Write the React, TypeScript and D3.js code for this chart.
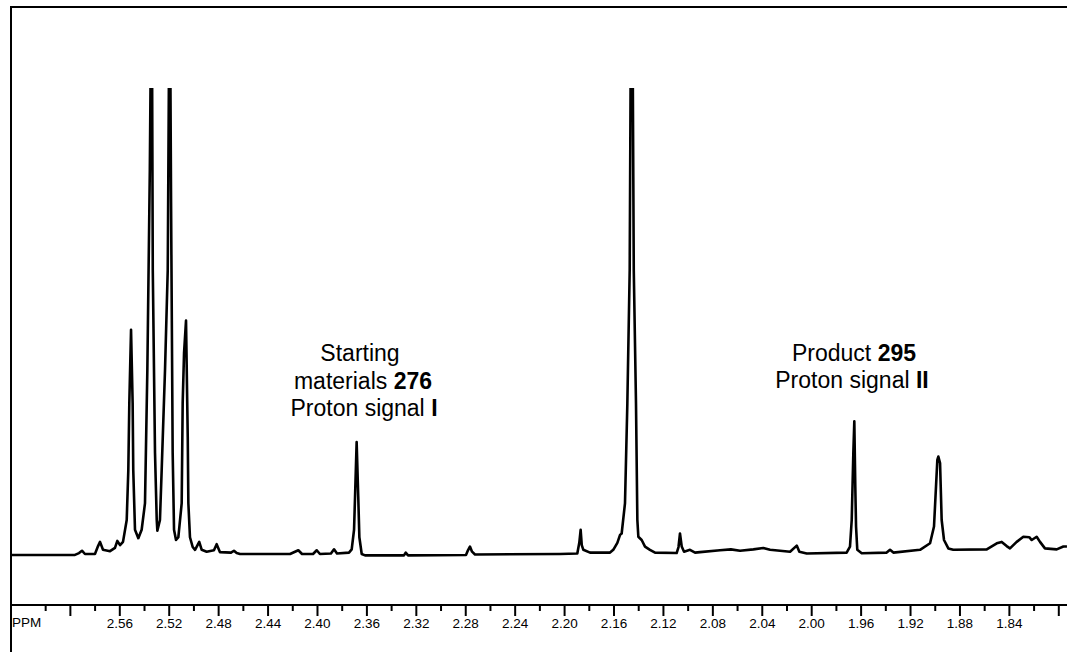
import React, { useRef, useEffect } from 'react';
import * as d3 from 'd3';

type Pt = [number, number]; // [ppm, intensity]

// 2.55 - 2.47 ppm multiplet (two tallest lines run off scale)
const multiplet: Pt[] = [
  [2.6477, -0.2], [2.5959, -0.2], [2.5926, 0.2], [2.5902, 0.7], [2.5878, 0], [2.5797, 0],
  [2.5772, 1.7], [2.5756, 2.6], [2.5732, 0.9], [2.5675, 0.6], [2.5635, 1.3], [2.5616, 2.8],
  [2.5594, 1.9], [2.557, 2.6], [2.554, 7.3], [2.5527, 18.0], [2.5519, 32.4], [2.5505, 48.1],
  [2.5492, 32.4], [2.5487, 18.0], [2.5473, 5.2], [2.5446, 3.4], [2.5419, 5.2], [2.5392, 10.9],
  [2.5373, 39.5], [2.5353, 82.4], [2.5338, 130], [2.5329, 60.9], [2.5311, 21.7], [2.5297, 7.3],
  [2.5292, 5.0], [2.5271, 7.3], [2.5257, 18.0], [2.523, 39.5], [2.5208, 60.9], [2.5192, 130],
  [2.5181, 75.3], [2.5168, 21.7], [2.5157, 5.2], [2.5141, 3.0], [2.5122, 3.6], [2.5095, 10.9],
  [2.5087, 32.4], [2.5076, 43.1], [2.506, 50.1], [2.5046, 25.1], [2.5041, 10.9], [2.5028, 3.6],
  [2.5006, 1.5], [2.4987, 0.9], [2.4953, 2.6], [2.4933, 0.9], [2.4893, 0.5], [2.4834, 0.8],
  [2.4812, 2.1], [2.4785, 0.4], [2.4696, 0.3], [2.4672, 0.7], [2.465, 0.2],
];

// starting material 276, proton signal I
const signalI: Pt[] = [
  [2.4623, 0], [2.4218, 0], [2.4151, 0.8], [2.4121, 0], [2.4032, 0], [2.4002, 0.8],
  [2.3976, 0], [2.3887, 0.1], [2.3862, 1.0], [2.3838, 0.1], [2.3741, 0.3], [2.3719, 1.0],
  [2.37, 5.2], [2.3692, 12.3], [2.3679, 24.0], [2.3666, 12.3], [2.3657, 3.6], [2.3638, 0],
  [2.3611, -0.3], [2.3296, -0.3], [2.3282, 0.3], [2.3263, -0.3], [2.2794, -0.2], [2.2778, 0.8],
  [2.2762, 1.6], [2.2745, 0.5], [2.2721, -0.1],
];

// singlet at 2.145 ppm (off scale)
const mainPeak: Pt[] = [
  [2.2195, -0.1], [2.2033, 0], [2.1893, 0.1], [2.1877, 2.4], [2.1866, 5.2], [2.1857, 1.9],
  [2.1844, 0.9], [2.179, 0.3], [2.1628, 0.3], [2.1602, 0.9], [2.1569, 2.4], [2.1547, 4.1],
  [2.1534, 4.4], [2.1507, 10.9], [2.1488, 32.3], [2.1469, 60.9], [2.1453, 150], [2.1436, 60.9],
  [2.1418, 32.3], [2.1407, 7.3], [2.1399, 3.7], [2.1372, 3.0], [2.1345, 1.6], [2.1305, 0.9],
  [2.1264, 0.3], [2.1089, 0.2], [2.1074, 1.5], [2.1062, 4.4], [2.1048, 1.6], [2.1029, 0.5],
  [2.0981, 0.9], [2.094, 0.3],
];

// product 295, proton signal II
const signalII: Pt[] = [
  [2.09, 0.4], [2.0738, 0.8], [2.065, 1.0], [2.0576, 0.7], [2.0468, 1.0], [2.0388, 1.3],
  [2.0333, 0.9], [2.0171, 0.5], [2.0117, 1.8], [2.0096, 0.5], [2.0036, 0.1], [1.9713, 0.3],
  [1.9686, 1.6], [1.9672, 7.3], [1.9659, 21.6], [1.9651, 28.5], [1.9643, 14.4], [1.9637, 5.9],
  [1.9627, 0.9], [1.9591, 0.15], [1.9389, 0.3], [1.9362, 0.9], [1.9335, 0.3], [1.9119, 0.9],
  [1.9038, 2.3], [1.9006, 5.9], [1.899, 14.4], [1.8979, 20.2], [1.8971, 20.9], [1.8957, 19.5],
  [1.8944, 7.3], [1.8925, 3.0], [1.889, 1.2], [1.885, 0.9],
];

const highField: Pt[] = [
  [1.8579, 1.0], [1.8498, 2.3], [1.8458, 2.6], [1.8418, 1.7], [1.8391, 1.2], [1.8337, 2.6],
  [1.8283, 3.7], [1.8235, 3.6], [1.8215, 3.0], [1.8175, 3.7], [1.8148, 2.6], [1.8108, 1.2],
  [1.8013, 1.0], [1.7959, 1.6], [1.793, 1.6],
];

const majorTicks = [2.60, 2.56, 2.52, 2.48, 2.44, 2.40, 2.36, 2.32, 2.28, 2.24, 2.20,
  2.16, 2.12, 2.08, 2.04, 2.00, 1.96, 1.92, 1.88, 1.84, 1.80];
const minorTicks = [2.62, 2.58, 2.54, 2.50, 2.46, 2.42, 2.38, 2.34, 2.30, 2.26, 2.22,
  2.18, 2.14, 2.10, 2.06, 2.02, 1.98, 1.94, 1.90, 1.86, 1.82];
const tickLabels = ['2.56', '2.52', '2.48', '2.44', '2.40', '2.36', '2.32', '2.28', '2.24',
  '2.20', '2.16', '2.12', '2.08', '2.04', '2.00', '1.96', '1.92', '1.88', '1.84'];

const W = 1067;
const H = 652;
const FONT = '"Liberation Sans", Arial, sans-serif';

const App: React.FC = () => {
  const svgRef = useRef<SVGSVGElement>(null);

  useEffect(() => {
    if (!svgRef.current) return;
    const svg = d3.select(svgRef.current);
    svg.selectAll('*').remove();

    const x = d3.scaleLinear().domain([2.56, 1.80]).range([119.3, 1058.3]);
    const y = d3.scaleLinear().domain([0, 100]).range([554, 88]);
    const axisY = 605;

    svg.append('rect').attr('width', W).attr('height', H).attr('fill', '#fff');

    // frame
    svg.append('line')
      .attr('x1', 10).attr('x2', W).attr('y1', 7).attr('y2', 7)
      .attr('stroke', '#000').attr('stroke-width', 2);
    svg.append('line')
      .attr('x1', 11).attr('x2', 11).attr('y1', 6).attr('y2', H)
      .attr('stroke', '#000').attr('stroke-width', 2);

    svg.append('defs').append('clipPath').attr('id', 'plot-clip')
      .append('rect').attr('x', 12).attr('y', y(100)).attr('width', W - 12).attr('height', 500);

    // spectrum
    const spectrum = [...multiplet, ...signalI, ...mainPeak.slice(1), ...signalII, ...highField];
    const line = d3.line<Pt>().x(d => x(d[0])).y(d => y(d[1]));
    svg.append('path')
      .attr('clip-path', 'url(#plot-clip)')
      .attr('d', line(spectrum))
      .attr('fill', 'none')
      .attr('stroke', '#000')
      .attr('stroke-width', 2.6)
      .attr('stroke-linejoin', 'round');

    // ppm axis
    svg.append('line')
      .attr('x1', 11).attr('x2', W).attr('y1', axisY).attr('y2', axisY)
      .attr('stroke', '#000').attr('stroke-width', 2.2);

    const labelSet = new Set(tickLabels);
    const major = d3.axisBottom(x)
      .tickValues(majorTicks)
      .tickSize(11)
      .tickPadding(2)
      .tickFormat(d => (labelSet.has((+d).toFixed(2)) ? (+d).toFixed(2) : ''));
    const gMajor = svg.append('g').attr('transform', `translate(0,${axisY})`).call(major);
    gMajor.select('.domain').remove();
    gMajor.selectAll('line').attr('stroke', '#000').attr('stroke-width', 2);
    gMajor.selectAll('text')
      .attr('fill', '#000')
      .style('font-family', FONT)
      .style('font-size', '13.5px');

    const minor = d3.axisBottom(x).tickValues(minorTicks).tickSize(6).tickFormat(() => '');
    const gMinor = svg.append('g').attr('transform', `translate(0,${axisY})`).call(minor);
    gMinor.select('.domain').remove();
    gMinor.selectAll('line').attr('stroke', '#000').attr('stroke-width', 2);

    svg.append('text')
      .attr('x', 12).attr('y', 627)
      .attr('fill', '#000')
      .style('font-family', FONT)
      .style('font-size', '13.5px')
      .text('PPM');

    // annotations
    const note = (cx: number, cy: number, parts: [string, boolean][]) => {
      const t = svg.append('text')
        .attr('x', cx).attr('y', cy)
        .attr('text-anchor', 'middle')
        .attr('fill', '#000')
        .style('font-family', FONT)
        .style('font-size', '23px');
      parts.forEach(([s, bold]) => {
        t.append('tspan').attr('font-weight', bold ? 'bold' : 'normal').text(s);
      });
    };
    note(360, 361, [['Starting', false]]);
    note(363, 389, [['materials ', false], ['276', true]]);
    note(364, 416, [['Proton signal ', false], ['I', true]]);
    note(854, 361, [['Product ', false], ['295', true]]);
    note(852, 388, [['Proton signal ', false], ['II', true]]);
  }, []);

  return (
    <svg ref={svgRef} width={W} height={H}
      style={{ position: 'absolute', left: 0, top: 0, display: 'block' }} />
  );
};

export default App;
